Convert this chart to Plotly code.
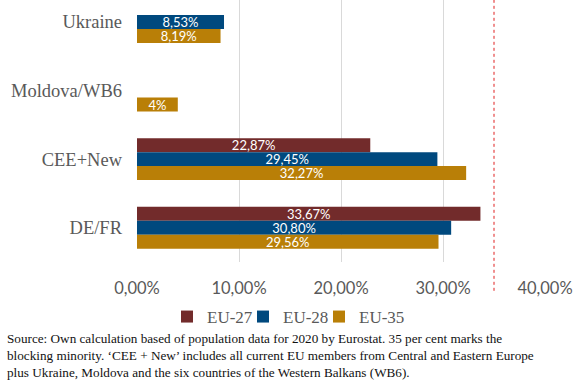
import plotly.graph_objects as go

categories = ["Ukraine", "Moldova/WB6", "CEE+New", "DE/FR"]
series_names = ["EU-27", "EU-28", "EU-35"]
eu27 = [None, None, 22.87, 33.67]
eu28 = [8.53, None, 29.45, 30.80]
eu35 = [8.19, 4.0, 32.27, 29.56]
colors = ["#722B2B", "#00497E", "#B97F07"]
tick_vals = [0, 10, 20, 30, 40]
tick_text = ["0,00%", "10,00%", "20,00%", "30,00%", "40,00%"]
blocking_minority = 35

def fmt(v):
    if v is None:
        return ""
    if float(v).is_integer():
        return f"{int(v)}%"
    return f"{v:.2f}".replace(".", ",") + "%"

fig = go.Figure()
for name, vals, col in zip(series_names, [eu27, eu28, eu35], colors):
    fig.add_trace(go.Bar(
        y=categories, x=vals, name=name, orientation="h",
        marker=dict(color=col, line=dict(width=0)),
        text=[fmt(v) for v in vals], textposition="inside",
        insidetextanchor="middle", constraintext="none",
        textfont=dict(family="Lato", size=13, color="white"),
    ))
# empty spacer entry so the last legend label is not clipped
fig.add_trace(go.Scatter(x=[None], y=[None], name=" ", mode="markers",
                         marker=dict(color="rgba(0,0,0,0)"), hoverinfo="skip", showlegend=True))

fig.add_shape(type="line", xref="x", yref="paper", x0=blocking_minority, x1=blocking_minority,
              y0=-0.11, y1=1, line=dict(color="#E02020", width=1, dash="dot"))

source = ("Source: Own calculation based of population data for 2020 by Eurostat. 35 per cent marks the<br>"
          "blocking minority. \u2018CEE + New\u2019 includes all current EU members from Central and Eastern Europe<br>"
          "plus Ukraine, Moldova and the six countries of the Western Balkans (WB6).")
fig.add_annotation(text=source, xref="paper", yref="paper", x=(5 - 137) / 408, y=-(329 - 262) / 262,
                   xanchor="left", yanchor="top", align="left", showarrow=False,
                   font=dict(family="Liberation Serif", size=13.2, color="#111111"))

fig.update_layout(
    width=584, height=382,
    margin=dict(l=137, r=39, t=0, b=120),
    paper_bgcolor="white", plot_bgcolor="white",
    barmode="group", bargap=0.389, bargroupgap=0,
    xaxis=dict(range=[0, 40], tickvals=tick_vals, ticktext=tick_text, automargin=False,
               showgrid=True, gridcolor="#D9D9D9", gridwidth=1, zeroline=False,
               showline=False, ticks="", ticklabelstandoff=14,
               tickfont=dict(family="Lato", size=16.5, color="#595959")),
    yaxis=dict(categoryorder="array", categoryarray=categories, range=[3.5, -0.32], automargin=False,
               showgrid=False, zeroline=False, showline=False, ticks="",
               ticklabelstandoff=14,
               tickfont=dict(family="Liberation Serif", size=18.5, color="#595959")),
    legend=dict(orientation="h", x=(167 - 137) / 408, xanchor="left", y=-55 / 262, yanchor="middle",
                font=dict(family="Liberation Serif", size=17, color="#595959"),
                itemwidth=30, entrywidth=31, entrywidthmode="pixels", traceorder="normal"),
    showlegend=True,
)

fig.write_html("out.html", config={"displayModeBar": False},
               post_script="document.body.style.margin='0';")
